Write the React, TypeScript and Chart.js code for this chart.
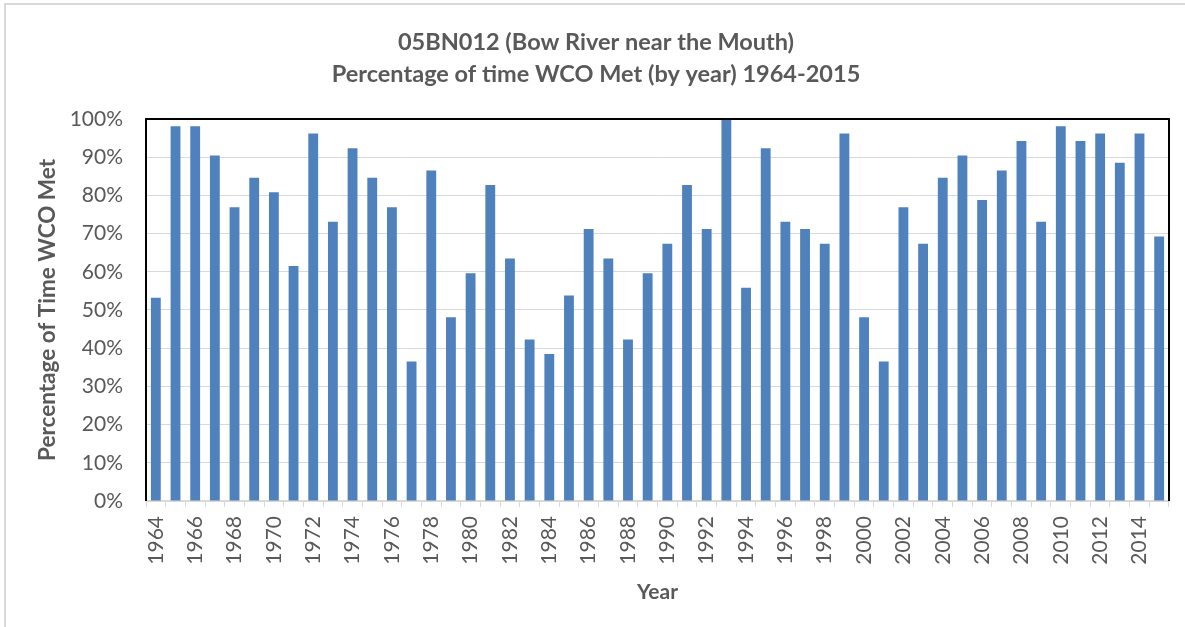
import React, { useEffect, useRef } from 'react';
import { Chart, registerables } from 'chart.js';

Chart.register(...registerables);

const years: string[] = [
  '1964', '1965', '1966', '1967', '1968', '1969', '1970', '1971', '1972', '1973',
  '1974', '1975', '1976', '1977', '1978', '1979', '1980', '1981', '1982', '1983',
  '1984', '1985', '1986', '1987', '1988', '1989', '1990', '1991', '1992', '1993',
  '1994', '1995', '1996', '1997', '1998', '1999', '2000', '2001', '2002', '2003',
  '2004', '2005', '2006', '2007', '2008', '2009', '2010', '2011', '2012', '2013',
  '2014', '2015',
];

const pctMet: number[] = [
  53.2, 98.1, 98.1, 90.4, 76.9, 84.6, 80.8, 61.5, 96.2, 73.1,
  92.3, 84.6, 76.9, 36.5, 86.5, 48.1, 59.6, 82.7, 63.5, 42.3,
  38.5, 53.8, 71.2, 63.5, 42.3, 59.6, 67.3, 82.7, 71.2, 100,
  55.8, 92.3, 73.1, 71.2, 67.3, 96.2, 48.1, 36.5, 76.9, 67.3,
  84.6, 90.4, 78.8, 86.5, 94.2, 73.1, 98.1, 94.2, 96.2, 88.5,
  96.2, 69.2,
];

const titleLines: string[] = [
  '05BN012 (Bow River near the Mouth)',
  'Percentage of time WCO Met (by year) 1964-2015',
];
const yAxisTitle = 'Percentage of Time WCO Met';
const xAxisTitle = 'Year';
const yMin = 0;
const yMax = 100;
const yStep = 10;

const TEXT = '#595959';
const FONT = 'Lato, "Open Sans", sans-serif';

const framePlugin = {
  id: 'plotFrame',
  afterDraw(chart: any) {
    const { ctx, chartArea } = chart;
    const { left, right, top, bottom } = chartArea;
    ctx.save();
    ctx.strokeStyle = '#000000';
    ctx.lineWidth = 2;
    ctx.beginPath();
    ctx.moveTo(left, bottom);
    ctx.lineTo(left, top);
    ctx.lineTo(right, top);
    ctx.lineTo(right, bottom);
    ctx.stroke();
    ctx.restore();
  },
};

export default function App() {
  const ref = useRef<HTMLCanvasElement | null>(null);

  useEffect(() => {
    if (!ref.current) return;
    const chart = new Chart(ref.current, {
      type: 'bar',
      data: {
        labels: years,
        datasets: [
          {
            data: pctMet,
            backgroundColor: '#4F81BD',
            borderWidth: 0,
            categoryPercentage: 1,
            barPercentage: 0.5,
          },
        ],
      },
      options: {
        responsive: false,
        animation: false,
        devicePixelRatio: 1,
        layout: { padding: { left: 7, right: 0, top: 0, bottom: 0 } },
        plugins: {
          legend: { display: false },
          tooltip: { enabled: false },
          title: {
            display: true,
            text: titleLines,
            color: TEXT,
            font: { family: FONT, size: 23.5, weight: 'bold', lineHeight: 1.36 },
            padding: { top: 26, bottom: 29 },
          },
        },
        scales: {
          x: {
            afterFit: (s: any) => {
              s.height = 126;
              s.paddingLeft = 0;
              s.paddingRight = 16;
            },
            grid: {
              display: true,
              drawOnChartArea: false,
              drawTicks: true,
              tickLength: 6,
              color: '#D9D9D9',
              lineWidth: 1,
            },
            border: { display: true, color: '#D9D9D9', width: 1.5 },
            ticks: {
              autoSkip: false,
              minRotation: 90,
              maxRotation: 90,
              color: TEXT,
              padding: 9,
              font: { family: FONT, size: 21 },
              callback: (_v: any, i: number) => (i % 2 === 0 ? years[i] : ''),
            },
            title: {
              display: true,
              text: xAxisTitle,
              color: TEXT,
              font: { family: FONT, size: 21, weight: 'bold' },
              padding: { top: 4, bottom: 22 },
            },
          },
          y: {
            min: yMin,
            max: yMax,
            afterFit: (s: any) => {
              s.width = 139;
            },
            grid: {
              color: '#D9D9D9',
              lineWidth: 1,
              drawTicks: false,
            },
            border: { display: false },
            ticks: {
              stepSize: yStep,
              color: TEXT,
              padding: 23,
              font: { family: FONT, size: 21 },
              callback: (v: any) => `${v}%`,
            },
            title: {
              display: true,
              text: yAxisTitle,
              color: TEXT,
              font: { family: FONT, size: 22.5, weight: 'bold' },
              padding: { top: 27, bottom: 0 },
            },
          },
        },
      },
      plugins: [framePlugin],
    } as any);
    return () => chart.destroy();
  }, []);

  return (
    <div
      style={{
        position: 'fixed',
        left: 0,
        top: 0,
        width: 1185,
        height: 627,
        overflow: 'hidden',
        background: '#ffffff',
      }}
    >
      <div
        style={{
          position: 'absolute',
          left: 4,
          top: 3,
          width: 1300,
          height: 700,
          border: '2px solid #D9D9D9',
          boxSizing: 'border-box',
        }}
      />
      <canvas
        ref={ref}
        width={1185}
        height={627}
        style={{ position: 'absolute', left: 0, top: 0, width: 1185, height: 627 }}
      />
    </div>
  );
}
